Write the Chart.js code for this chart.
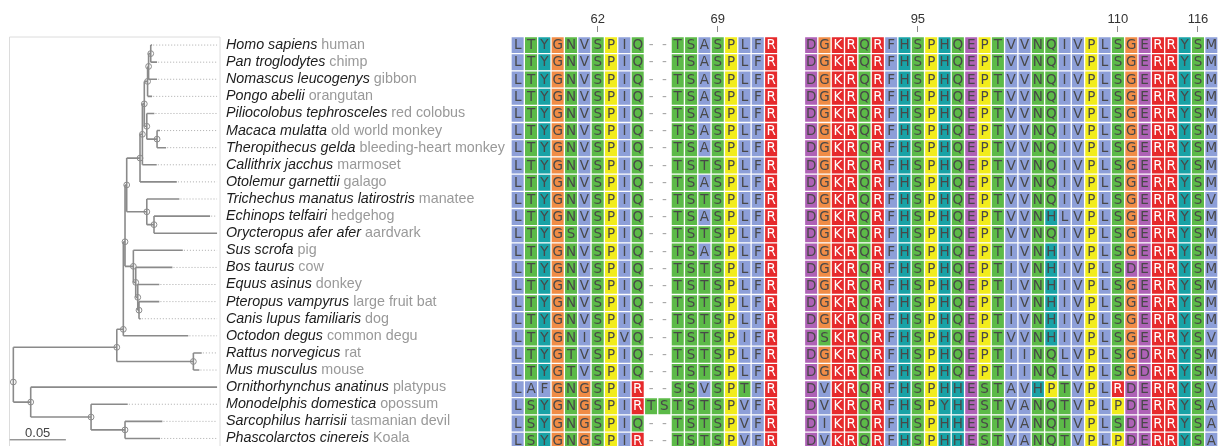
<!DOCTYPE html>
<html>
<head>
<meta charset="utf-8">
<script src="https://cdn.jsdelivr.net/npm/chart.js@4.4.1/dist/chart.umd.min.js"></script>
<style>
html, body { margin: 0; padding: 0; width: 1218px; height: 446px; overflow: hidden; background: #fff; }
#treeChart { position: absolute; left: 0; top: 0; }
#alnChart { position: absolute; left: 500px; top: 0; }
</style>
</head>
<body>
<canvas id="treeChart" width="510" height="452"></canvas>
<canvas id="alnChart" width="718" height="452"></canvas>
<script>
// species, one per row, top to bottom
const speciesNames = [
    "Homo sapiens", "Pan troglodytes", "Nomascus leucogenys", "Pongo abelii",
    "Piliocolobus tephrosceles", "Macaca mulatta", "Theropithecus gelda", "Callithrix jacchus",
    "Otolemur garnettii", "Trichechus manatus latirostris", "Echinops telfairi", "Orycteropus afer afer",
    "Sus scrofa", "Bos taurus", "Equus asinus", "Pteropus vampyrus",
    "Canis lupus familiaris", "Octodon degus", "Rattus norvegicus", "Mus musculus",
    "Ornithorhynchus anatinus", "Monodelphis domestica", "Sarcophilus harrisii", "Phascolarctos cinereis"
];
const commonNames = [
    "human", "chimp", "gibbon", "orangutan",
    "red colobus", "old world monkey", "bleeding-heart monkey", "marmoset",
    "galago", "manatee", "hedgehog", "aardvark",
    "pig", "cow", "donkey", "large fruit bat",
    "dog", "common degu", "rat", "mouse",
    "platypus", "opossum", "tasmanian devil", "Koala"
];

// alignment, two blocks
const block1 = [
    "LTYGNVSPIQ--TSASPLFR", "LTYGNVSPIQ--TSASPLFR", "LTYGNVSPIQ--TSASPLFR", "LTYGNVSPIQ--TSASPLFR",
    "LTYGNVSPIQ--TSASPLFR", "LTYGNVSPIQ--TSASPLFR", "LTYGNVSPIQ--TSASPLFR", "LTYGNVSPIQ--TSTSPLFR",
    "LTYGNVSPIQ--TSASPLFR", "LTYGNVSPIQ--TSTSPLFR", "LTYGNVSPIQ--TSASPLFR", "LTYGSVSPIQ--TSTSPLFR",
    "LTYGNVSPIQ--TSASPLFR", "LTYGNVSPIQ--TSTSPLFR", "LTYGNVSPIQ--TSTSPLFR", "LTYGNVSPIQ--TSTSPLFR",
    "LTYGNVSPIQ--TSTSPLFR", "LTYGNISPVQ--TSTSPIFR", "LTYGTVSPIQ--TSTSPLFR", "LTYGTVSPIQ--TSTSPLFR",
    "LAFGNGSPIR--SSVSPTFR", "LSYGNGSPIRTSTSTSPVFR", "LSYGNGSPIQ--TSTSPVFR", "LSYGNGSPIR--TSTSPVFR"
];
const block2 = [
    "DGKRQRFHSPHQEPTVVNQIVPLSGERRYSM", "DGKRQRFHSPHQEPTVVNQIVPLSGERRYSM", "DGKRQRFHSPHQEPTVVNQIVPLSGERRYSM", "DGKRQRFHSPHQEPTVVNQIVPLSGERRYSM",
    "DGKRQRFHSPHQEPTVVNQIVPLSGERRYSM", "DGKRQRFHSPHQEPTVVNQIVPLSGERRYSM", "DGKRQRFHSPHQEPTVVNQIVPLSGERRYSM", "DGKRQRFHSPHQEPTVVNQIVPLSGERRYSM",
    "DGKRQRFHSPHQEPTVVNQIVPLSGERRYSM", "DGKRQRFHSPHQEPTVVNQIVPLSGERRYSV", "DGKRQRFHSPHQEPTVVNHLVPLSGERRYSM", "DGKRQRFHSPHQEPTVVNQIVPLSGERRYSM",
    "DGKRQRFHSPHQEPTIVNHIVPLSGERRYSM", "DGKRQRFHSPHQEPTIVNHIVPLSDERRYSM", "DGKRQRFHSPHQEPTIVNHIVPLSGERRYSM", "DGKRQRFHSPHQEPTIVNHIVPLSGERRYSM",
    "DGKRQRFHSPHQEPTIVNHIVPLSGERRYSM", "DSKRQRFHSPHQEPTVVNHIVPLSGERRYSV", "DGKRQRFHSPHQEPTIINQLVPLSGDRRYSM", "DGKRQRFHSPHQEPTIINQLVPLSGDRRYSM",
    "DVKRQRFHSPHHESTAVHPTVPLRDERRYSV", "DVKRQRFHSPYHESTVANQTVPLPDERRYSA", "DIKRQRFHSPHHESTVANQTVPLSDERRYSA", "DVKRQRFHSPHHESTVANQTVPLPDERRYSA"
];
const blockFirstPos = [56, 87];          // human residue number of each block's first column
const tickPositions = [62, 69, 95, 110, 116];

// tree: inner nodes with parent, branch length and drawn row (null = midway between children)
const innerNodes  = ["root", "A", "B", "C", "D", "E", "core", "cat", "hom", "hpn", "hp", "cerco", "mt", "F", "eo", "L", "bepc", "epc", "pc", "rm", "M", "ma", "sp"];
const innerParent = [null, "root", "A", "B", "C", "D", "E", "core", "cat", "hom", "hpn", "cat", "cerco", "D", "F", "C", "L", "bepc", "epc", "A", "root", "M", "ma"];
const innerLen    = [0, 0.0917, 0.0058, 0.0015, 0.0015, 0.0118, 0.0021, 0.0017, 0.0029, 0.0009, 0.0019, 0.0022, 0.0091, 0.0178, 0.0064, 0.0074, 0.0021, 0.0018, 0.0011, 0.0679, 0.0154, 0.0535, 0.0301];
const innerRow    = [19.7, 17.67, 16.62, 11.5, null, null, null, null, null, null, null, null, null, null, null, null, null, null, null, null, null, null, null];
const leafParent  = ["hp", "hp", "hpn", "hom", "cerco", "mt", "mt", "core", "E", "F", "eo", "eo", "L", "bepc", "epc", "pc", "pc", "B", "rm", "rm", "M", "ma", "sp", "sp"];
const leafLen     = [0.0012, 0.0056, 0.0075, 0.004, 0.0067, 0.0026, 0.008, 0.0127, 0.0326, 0.0289, 0.0497, 0.0559, 0.0438, 0.0325, 0.0191, 0.018, 0.0015, 0.0576, 0.0074, 0.0053, 0.1652, 0.0325, 0.0331, 0.0311];
const scaleBarLen = 0.05;

// layout
const gridTop = 36.5, rowH = 17.2, canvasH = 452;
const gridBottom = gridTop + rowH * speciesNames.length;
const treeMin = -0.0034, treeMax = 0.1832, tipEnd = 0.1806;

// build tree positions
const tree = {};
innerNodes.forEach((id, k) => tree[id] = { parent: innerParent[k], len: innerLen[k], kids: [], fixedRow: innerRow[k] });
speciesNames.forEach((_, r) => tree["s" + r] = { parent: leafParent[r], len: leafLen[r], kids: [], row: r });
Object.keys(tree).forEach(id => { if (tree[id].parent) tree[tree[id].parent].kids.push(id); });

function place(id, depth) {
    let n = tree[id];
    n.x = depth + n.len;
    n.kids.forEach(k => place(k, n.x));
    if (n.kids.length) {
        let ys = n.kids.map(k => tree[k].y);
        n.y = n.fixedRow != null ? n.fixedRow : (Math.min(...ys) + Math.max(...ys)) / 2;
        n.ymin = Math.min(n.y, ...ys);
        n.ymax = Math.max(n.y, ...ys);
    } else {
        n.y = n.row;
    }
}
place("root", 0);

let branchPts = [], dotPts = [], nodePts = [];
Object.keys(tree).forEach(id => {
    let n = tree[id];
    if (n.parent) {
        branchPts.push({ x: tree[n.parent].x, y: n.y }, { x: n.x, y: n.y }, { x: NaN, y: NaN });
    }
    if (n.kids.length) {
        branchPts.push({ x: n.x, y: n.ymin }, { x: n.x, y: n.ymax }, { x: NaN, y: NaN });
        nodePts.push({ x: n.x, y: n.y });
    } else if (n.x < tipEnd - 0.001) {
        dotPts.push({ x: n.x + 0.001, y: n.y }, { x: tipEnd, y: n.y }, { x: NaN, y: NaN });
    }
});

const treeDecor = {
    id: "treeDecor",
    beforeDatasetsDraw(chart) {
        let a = chart.chartArea, ctx = chart.ctx;
        ctx.save();
        ctx.strokeStyle = "#dcdcdc";
        ctx.lineWidth = 1;
        ctx.beginPath();
        ctx.moveTo(a.left, canvasH);
        ctx.lineTo(a.left, a.top + 0.5);
        ctx.lineTo(a.right, a.top + 0.5);
        ctx.lineTo(a.right, canvasH);
        ctx.stroke();
        ctx.restore();
    },
    afterDatasetsDraw(chart) {
        let ctx = chart.ctx, ys = chart.scales.y, xs = chart.scales.x;
        ctx.save();
        ctx.textBaseline = "middle";
        speciesNames.forEach((name, i) => {
            let py = ys.getPixelForValue(i);
            ctx.font = "italic 14.3px 'Liberation Sans', Arial, sans-serif";
            ctx.fillStyle = "#1c1c1c";
            ctx.fillText(name, 226, py);
            let w = ctx.measureText(name + " ").width;
            ctx.font = "14.3px 'Liberation Sans', Arial, sans-serif";
            ctx.fillStyle = "#999";
            ctx.fillText(commonNames[i], 226 + w, py);
        });
        // scale bar label
        ctx.font = "13px 'Liberation Sans', Arial, sans-serif";
        ctx.fillStyle = "#444";
        ctx.textAlign = "center";
        let bx = (xs.getPixelForValue(treeMin) + xs.getPixelForValue(treeMin + scaleBarLen)) / 2;
        ctx.fillText(scaleBarLen.toFixed(2), bx, ys.getPixelForValue(23.08) - 6.5);
        ctx.restore();
    }
};

new Chart(document.getElementById("treeChart"), {
    type: "scatter",
    data: {
        datasets: [
            { data: dotPts, showLine: true, spanGaps: false, borderColor: "#ababab", borderWidth: 1, borderDash: [1, 2], pointRadius: 0 },
            { data: branchPts, showLine: true, spanGaps: false, borderColor: "#8a8a8a", borderWidth: 1.6, pointRadius: 0 },
            { data: nodePts, pointRadius: 2.9, pointBackgroundColor: "#fff", pointBorderColor: "#8a8a8a", pointBorderWidth: 1 },
            { data: [{ x: treeMin, y: 23.08 }, { x: treeMin + scaleBarLen, y: 23.08 }], showLine: true, borderColor: "#666", borderWidth: 1, pointRadius: 0 }
        ]
    },
    options: {
        responsive: false,
        animation: false,
        layout: { padding: { left: 9.5, right: 510 - 220, top: gridTop, bottom: canvasH - gridBottom } },
        scales: {
            x: { type: "linear", display: false, min: treeMin, max: treeMax },
            y: { type: "linear", display: false, min: -0.5, max: speciesNames.length - 0.5, reverse: true }
        },
        plugins: { legend: { display: false }, tooltip: { enabled: false } }
    },
    plugins: [treeDecor]
});

// alignment cells
const blockStart = [0, block1[0].length + 2];
let alnPoints = [];
speciesNames.forEach((name, r) => {
    [block1[r], block2[r]].forEach((seq, b) => {
        for (let c = 0; c < seq.length; c++) {
            let col = blockStart[b] + c;
            alnPoints.push({ y: name, x: [col, col + 1], res: seq[c] });
        }
    });
});

// human numbering -> column
let posToCol = {};
[block1[0], block2[0]].forEach((seq, b) => {
    let pos = blockFirstPos[b];
    for (let c = 0; c < seq.length; c++) {
        if (seq[c] !== "-") { posToCol[pos] = blockStart[b] + c; pos++; }
    }
});
const tickCols = tickPositions.map(p => posToCol[p] + 0.5);
const nCols = blockStart[1] + block2[0].length;

function resColor(r) {
    if ("AILMFVWC".includes(r)) return "#8d9fd8";
    if ("STNQ".includes(r)) return "#5cba48";
    if ("HY".includes(r)) return "#19a2a6";
    if (r === "G") return "#f08c46";
    if (r === "P") return "#f2ec1c";
    if ("DE".includes(r)) return "#ae62b6";
    if ("KR".includes(r)) return "#e62a2c";
    return "rgba(255,255,255,0)";
}

const letters = {
    id: "letters",
    afterDatasetsDraw(chart) {
        let ctx = chart.ctx;
        ctx.save();
        ctx.font = "13.5px 'DejaVu Sans', sans-serif";
        ctx.textAlign = "center";
        ctx.textBaseline = "middle";
        chart.getDatasetMeta(0).data.forEach((el, i) => {
            let p = alnPoints[i], c = el.getCenterPoint();
            ctx.fillStyle = "KR".includes(p.res) ? "#fff" : (p.res === "-" ? "#aaa" : "#484848");
            ctx.fillText(p.res, c.x, c.y + 0.5);
        });
        ctx.restore();
    }
};

new Chart(document.getElementById("alnChart"), {
    type: "bar",
    data: {
        labels: speciesNames,
        datasets: [{
            data: alnPoints,
            backgroundColor: ctx => resColor(ctx.raw ? ctx.raw.res : "-"),
            borderColor: "rgba(255,255,255,0.5)",
            borderWidth: 1,
            borderSkipped: false,
            barPercentage: 1,
            categoryPercentage: 1
        }]
    },
    options: {
        indexAxis: "y",
        responsive: false,
        animation: false,
        layout: { padding: { left: 11, right: 0, top: 0, bottom: canvasH - gridBottom } },
        scales: {
            x: {
                type: "linear",
                position: "top",
                min: 0,
                max: nCols,
                afterFit: s => { s.height = gridTop; },
                afterBuildTicks: s => { s.ticks = tickCols.map(v => ({ value: v })); },
                grid: { drawOnChartArea: false, drawTicks: true, tickLength: 10.5, color: "#888", tickBorderDash: [6, 40] },
                border: { display: false },
                ticks: {
                    callback: (v, i) => tickPositions[i],
                    autoSkip: false,
                    maxRotation: 0,
                    padding: 0,
                    color: "#333",
                    font: { size: 13, family: "'Liberation Sans', Arial, sans-serif", lineHeight: 1 }
                }
            },
            y: { type: "category", display: false }
        },
        plugins: { legend: { display: false }, tooltip: { enabled: false } }
    },
    plugins: [letters]
});
</script>
</body>
</html>
